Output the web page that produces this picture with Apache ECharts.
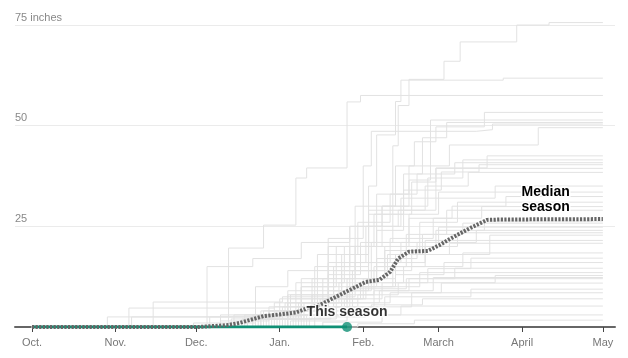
<!DOCTYPE html>
<html>
<head>
<meta charset="utf-8">
<script src="https://cdn.jsdelivr.net/npm/echarts@6/dist/echarts.min.js"></script>
<style>
html,body{margin:0;padding:0;background:#fff;}
#chart{width:628px;height:358px;}
</style>
</head>
<body>
<div id="chart"></div>
<script>
// Day index counted from Oct. 1
const monthDays = [0, 31, 61, 92, 123, 151, 182, 212];
const monthLabels = ['Oct.', 'Nov.', 'Dec.', 'Jan.', 'Feb.', 'March', 'April', 'May'];
const yTickLabels = {25: '25', 50: '50', 75: '75 inches'};

// Past seasons: cumulative snowfall (inches) at [day, total]
const pastSeasons = [
  [[0,0],[70,1.5],[88,5],[100,12],[110,20],[125,29],[134,45],[136,55],[140,61.5],[153,66],[159,70.8],[180,75],[192,75.6],[212,75.6]],
  [[0,0],[80,2],[95,8],[115,18],[125,35],[128,47.7],[135,56],[137,61.3],[175,61.8],[212,61.8]],
  [[0,0],[73,19.6],[86,25.3],[98,37],[102,39.5],[117,55.9],[122,57.5],[212,57.5]],
  [[0,0],[85,4],[100,10],[110,22],[120,30],[135,40],[142,46],[150,49.7],[168,53.3],[212,53.3]],
  [[0,0],[75,3],[95,9],[105,15],[118,25],[130,30],[140,36.5],[148,51.4],[212,51.4]],
  [[0,0],[90,5],[112,15],[125,28],[138,38],[145,47],[154,50.8],[212,50.8]],
  [[0,0],[95,6],[108,12],[120,22],[123,40],[126,48.6],[165,49],[171,50.4],[212,50.4]],
  [[0,0],[84,3],[100,10],[113,20],[128,33],[140,40],[155,45.2],[188,49.5],[212,49.5]],
  [[0,0],[78,2],[96,8],[110,16],[124,25],[137,32],[150,39.5],[169,42.5],[212,42.5]],
  [[0,0],[88,4],[104,12],[118,20],[130,30],[147,37],[160,41.5],[212,41.5]],
  [[0,0],[66,2.5],[92,7],[106,18],[121,26],[133,33],[143,38],[157,40.8],[212,40.8]],
  [[0,0],[100,6],[115,14],[128,24],[138,34],[152,38.5],[166,40.3],[212,40.3]],
  [[0,0],[82,3],[98,11],[116,20],[127,28],[141,36],[150,39.4],[212,39.4]],
  [[0,0],[93,5],[110,13],[122,21],[134,29],[146,35],[162,38.4],[212,38.4]],
  [[0,0],[65,15],[82,17],[100,21],[118,25],[136,29],[150,32],[172,35],[212,35]],
  [[0,0],[60,1],[83,10],[95,14],[120,20],[140,28],[151,33.5],[212,33.5]],
  [[0,0],[74,2],[96,7],[112,14],[126,21],[140,27],[156,30],[176,32.4],[212,32.4]],
  [[0,0],[99,5],[117,12],[131,19],[144,26],[158,31],[212,31]],
  [[0,0],[86,4],[105,9],[120,16],[133,22],[149,27],[167,29.9],[212,29.9]],
  [[0,0],[95,3],[113,8],[127,15],[139,23],[154,29],[212,29]],
  [[0,0],[87,3],[104,8],[119,14],[131,20],[150,24],[168,26.3],[212,26.3]],
  [[0,0],[80,2],[101,6],[118,12],[132,18],[145,23],[160,25.8],[212,25.8]],
  [[0,0],[92,4],[110,9],[125,16],[137,21],[151,24.8],[212,24.8]],
  [[0,0],[70,3],[94,6],[114,11],[128,17],[143,21],[165,24],[212,24]],
  [[0,0],[103,5],[119,10],[134,16],[146,20],[158,23.4],[212,23.4]],
  [[0,0],[85,2],[107,7],[123,12],[135,18],[170,22.8],[212,22.8]],
  [[0,0],[36,4.7],[90,6],[110,10],[128,15],[146,21.5],[212,21.5]],
  [[0,0],[97,4],[112,9],[126,14],[141,18],[155,20.8],[212,20.8]],
  [[0,0],[89,3],[106,7],[122,11],[138,15],[160,18.4],[212,18.4]],
  [[0,0],[101,3],[116,7],[130,11],[147,14.5],[163,17.1],[212,17.1]],
  [[0,0],[79,3],[99,6],[117,10],[135,13],[153,16],[212,16]],
  [[0,0],[94,2],[111,5],[127,9],[140,12],[157,14.6],[212,14.6]],
  [[0,0],[37,2.5],[88,4],[109,7],[124,10],[144,13.5],[212,13.5]],
  [[0,0],[83,2],[104,5],[121,8],[136,11],[172,12.8],[212,12.8]],
  [[0,0],[98,3],[115,6],[129,9],[149,12.3],[212,12.3]],
  [[0,0],[45,6.2],[93,7.5],[120,9.5],[139,12],[212,12]],
  [[0,0],[102,3],[118,6],[133,8.5],[152,10.9],[212,10.9]],
  [[0,0],[91,2],[113,5],[131,7.5],[163,9.4],[212,9.4]],
  [[0,0],[105,2.5],[124,5],[141,8.5],[212,8.5]],
  [[0,0],[28,2.5],[100,4],[126,5.5],[145,7],[212,7]],
  [[0,0],[96,1.5],[117,3],[137,5.2],[212,5.2]],
  [[0,0],[108,1.2],[130,3],[212,3]],
  [[0,0],[121,0.8],[142,1.7],[212,1.7]]
];

// Median season
const medianSeason = [
  [0,0],[62,0],[73,0.5],[77,1],[86,2.7],[93,3.2],[98,3.6],[103,4.8],[107,5.5],
  [112,7.2],[118,9.2],[124,11.2],[129,11.7],[133,13.7],[136,17],[140,18.7],
  [147,18.9],[151.5,20.4],[155,21.8],[162.5,24.5],[169,26.6],[174,26.7],[212,26.8]
];

// This season (so far)
const thisSeason = [[0,0],[117,0]];

const FONT = '"Liberation Sans", Arial, sans-serif';
const chart = echarts.init(document.getElementById('chart'), null, {renderer: 'canvas'});

const series = pastSeasons.map(s => ({
  type: 'line',
  data: s,
  step: 'end',
  showSymbol: false,
  silent: true,
  clip: false,
  z: 1,
  lineStyle: {color: '#e2e2e2', width: 1}
}));

series.push({
  type: 'line',
  data: thisSeason,
  showSymbol: false,
  silent: true,
  z: 3,
  lineStyle: {color: '#0f8f74', width: 3}
});

series.push({
  type: 'line',
  data: medianSeason,
  showSymbol: false,
  silent: true,
  z: 4,
  lineStyle: {color: '#666', width: 4, type: [2.2, 1.4], cap: 'butt'}
});

series.push({
  type: 'scatter',
  data: [thisSeason[thisSeason.length - 1]],
  symbolSize: 10,
  silent: true,
  z: 5,
  itemStyle: {color: '#0f8f74'},
  label: {
    show: true,
    position: 'top',
    distance: 3,
    formatter: 'This season',
    fontFamily: FONT,
    fontWeight: 'bold',
    fontSize: 14,
    color: '#000',
    textBorderColor: '#fff',
    textBorderWidth: 3
  }
});

chart.setOption({
  animation: false,
  backgroundColor: '#fff',
  grid: {left: 15, right: 13, top: 25, bottom: 31, containLabel: false},
  xAxis: {
    type: 'value',
    min: -6.3,
    max: 216.5,
    splitLine: {show: false},
    axisLine: {show: true, onZero: true, lineStyle: {color: '#666', width: 2}},
    axisTick: {show: true, customValues: monthDays, length: 5, lineStyle: {color: '#444', width: 1}},
    axisLabel: {
      show: true,
      customValues: monthDays,
      formatter: v => monthLabels[monthDays.indexOf(v)] || '',
      color: '#777',
      fontSize: 11,
      fontFamily: FONT,
      margin: 10
    }
  },
  yAxis: {
    type: 'value',
    min: 0,
    max: 75,
    interval: 25,
    axisLine: {show: false},
    axisTick: {show: false},
    splitLine: {show: true, lineStyle: {color: '#ebebeb', width: 1}},
    axisLabel: {
      inside: true,
      margin: 0,
      verticalAlign: 'bottom',
      padding: [0, 0, 2, 0],
      formatter: v => yTickLabels[v] || '',
      color: '#888',
      fontSize: 11,
      fontFamily: FONT
    }
  },
  graphic: [
    {
      type: 'text',
      left: 520,
      top: 184,
      z: 10,
      style: {
        text: 'Median\nseason',
        align: 'center',
        lineHeight: 15,
        font: 'bold 14px ' + FONT,
        fill: '#000',
        stroke: '#fff',
        lineWidth: 3
      }
    }
  ],
  series: series
});
</script>
</body>
</html>
